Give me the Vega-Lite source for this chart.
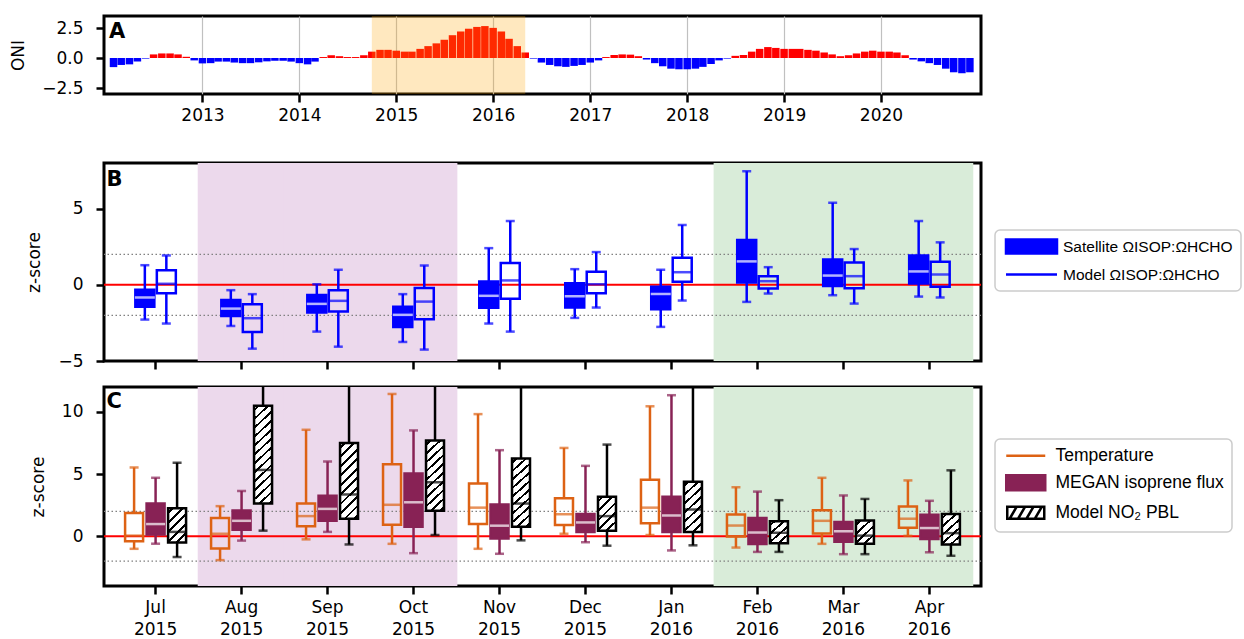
{
  "$schema": "https://vega.github.io/schema/vega-lite/v6.json",
  "background": "white",
  "padding": {"left": 8, "top": 14, "right": 4, "bottom": 0},
  "spacing": 13,
  "resolve": {
    "scale": {"shape": "independent", "fill": "independent", "stroke": "independent", "color": "independent", "x": "independent", "y": "independent", "xOffset": "independent"},
    "legend": {"shape": "independent", "fill": "independent", "stroke": "independent", "color": "independent"}
  },
  "config": {
    "font": "DejaVu Sans",
    "view": {"stroke": "black", "strokeWidth": 3},
    "axis": {"labelFont": "DejaVu Sans", "labelFontSize": 17, "labelColor": "black", "titleFont": "DejaVu Sans", "titleFontSize": 17, "titleFontWeight": "normal", "titleColor": "black", "domain": false, "tickColor": "black", "tickWidth": 2.5, "tickSize": 8, "grid": false, "labelPadding": 8},
    "legend": {"labelFont": "Liberation Sans", "labelColor": "black", "labelLimit": 0, "strokeColor": "#cccccc", "strokeWidth": 1.5, "fillColor": "white", "cornerRadius": 5, "padding": 8, "symbolStrokeWidth": 2.5, "symbolSize": 196, "symbolOpacity": 1, "rowPadding": 7}
  },
  "datasets": {
    "panels": [{"panel": "A"}, {"panel": "B"}, {"panel": "C"}],
    "oni": [
      {"date": "2012-02-01", "oni": -0.76}, {"date": "2012-03-01", "oni": -0.58}, {"date": "2012-04-01", "oni": -0.53}, {"date": "2012-05-01", "oni": -0.30}, {"date": "2012-06-01", "oni": -0.05}, {"date": "2012-07-01", "oni": 0.30}, {"date": "2012-08-01", "oni": 0.38}, {"date": "2012-09-01", "oni": 0.38}, {"date": "2012-10-01", "oni": 0.30}, {"date": "2012-11-01", "oni": 0.10}, {"date": "2012-12-01", "oni": -0.20},
      {"date": "2013-01-01", "oni": -0.45}, {"date": "2013-02-01", "oni": -0.43}, {"date": "2013-03-01", "oni": -0.30}, {"date": "2013-04-01", "oni": -0.30}, {"date": "2013-05-01", "oni": -0.38}, {"date": "2013-06-01", "oni": -0.43}, {"date": "2013-07-01", "oni": -0.43}, {"date": "2013-08-01", "oni": -0.36}, {"date": "2013-09-01", "oni": -0.28}, {"date": "2013-10-01", "oni": -0.23}, {"date": "2013-11-01", "oni": -0.23}, {"date": "2013-12-01", "oni": -0.30},
      {"date": "2014-01-01", "oni": -0.43}, {"date": "2014-02-01", "oni": -0.53}, {"date": "2014-03-01", "oni": -0.30}, {"date": "2014-04-01", "oni": 0.08}, {"date": "2014-05-01", "oni": 0.23}, {"date": "2014-06-01", "oni": 0.15}, {"date": "2014-07-01", "oni": 0.08}, {"date": "2014-08-01", "oni": 0.08}, {"date": "2014-09-01", "oni": 0.23}, {"date": "2014-10-01", "oni": 0.53}, {"date": "2014-11-01", "oni": 0.68}, {"date": "2014-12-01", "oni": 0.68},
      {"date": "2015-01-01", "oni": 0.61}, {"date": "2015-02-01", "oni": 0.53}, {"date": "2015-03-01", "oni": 0.53}, {"date": "2015-04-01", "oni": 0.76}, {"date": "2015-05-01", "oni": 0.99}, {"date": "2015-06-01", "oni": 1.22}, {"date": "2015-07-01", "oni": 1.52}, {"date": "2015-08-01", "oni": 1.90}, {"date": "2015-09-01", "oni": 2.21}, {"date": "2015-10-01", "oni": 2.44}, {"date": "2015-11-01", "oni": 2.59}, {"date": "2015-12-01", "oni": 2.66},
      {"date": "2016-01-01", "oni": 2.51}, {"date": "2016-02-01", "oni": 2.21}, {"date": "2016-03-01", "oni": 1.60}, {"date": "2016-04-01", "oni": 0.99}, {"date": "2016-05-01", "oni": 0.46}, {"date": "2016-06-01", "oni": -0.05}, {"date": "2016-07-01", "oni": -0.38}, {"date": "2016-08-01", "oni": -0.58}, {"date": "2016-09-01", "oni": -0.69}, {"date": "2016-10-01", "oni": -0.74}, {"date": "2016-11-01", "oni": -0.66}, {"date": "2016-12-01", "oni": -0.58},
      {"date": "2017-01-01", "oni": -0.38}, {"date": "2017-02-01", "oni": -0.20}, {"date": "2017-03-01", "oni": 0.08}, {"date": "2017-04-01", "oni": 0.25}, {"date": "2017-05-01", "oni": 0.30}, {"date": "2017-06-01", "oni": 0.28}, {"date": "2017-07-01", "oni": 0.15}, {"date": "2017-08-01", "oni": -0.13}, {"date": "2017-09-01", "oni": -0.43}, {"date": "2017-10-01", "oni": -0.69}, {"date": "2017-11-01", "oni": -0.89}, {"date": "2017-12-01", "oni": -0.94},
      {"date": "2018-01-01", "oni": -0.94}, {"date": "2018-02-01", "oni": -0.89}, {"date": "2018-03-01", "oni": -0.74}, {"date": "2018-04-01", "oni": -0.50}, {"date": "2018-05-01", "oni": -0.20}, {"date": "2018-06-01", "oni": -0.05}, {"date": "2018-07-01", "oni": 0.18}, {"date": "2018-08-01", "oni": 0.25}, {"date": "2018-09-01", "oni": 0.53}, {"date": "2018-10-01", "oni": 0.76}, {"date": "2018-11-01", "oni": 0.91}, {"date": "2018-12-01", "oni": 0.84},
      {"date": "2019-01-01", "oni": 0.76}, {"date": "2019-02-01", "oni": 0.76}, {"date": "2019-03-01", "oni": 0.76}, {"date": "2019-04-01", "oni": 0.68}, {"date": "2019-05-01", "oni": 0.61}, {"date": "2019-06-01", "oni": 0.46}, {"date": "2019-07-01", "oni": 0.30}, {"date": "2019-08-01", "oni": 0.15}, {"date": "2019-09-01", "oni": 0.23}, {"date": "2019-10-01", "oni": 0.38}, {"date": "2019-11-01", "oni": 0.53}, {"date": "2019-12-01", "oni": 0.61},
      {"date": "2020-01-01", "oni": 0.53}, {"date": "2020-02-01", "oni": 0.53}, {"date": "2020-03-01", "oni": 0.46}, {"date": "2020-04-01", "oni": 0.23}, {"date": "2020-05-01", "oni": -0.13}, {"date": "2020-06-01", "oni": -0.28}, {"date": "2020-07-01", "oni": -0.43}, {"date": "2020-08-01", "oni": -0.58}, {"date": "2020-09-01", "oni": -0.89}, {"date": "2020-10-01", "oni": -1.19}, {"date": "2020-11-01", "oni": -1.27}, {"date": "2020-12-01", "oni": -1.19}
    ],
    "enso": [{"start": "2014-10-01", "end": "2016-05-01"}],
    "shade": [
      {"month": "Aug 2015", "period": "Aug–Oct 2015"}, {"month": "Sep 2015", "period": "Aug–Oct 2015"}, {"month": "Oct 2015", "period": "Aug–Oct 2015"},
      {"month": "Feb 2016", "period": "Feb–Apr 2016"}, {"month": "Mar 2016", "period": "Feb–Apr 2016"}, {"month": "Apr 2016", "period": "Feb–Apr 2016"}
    ],
    "zref": [{"z": -2}, {"z": 2}],
    "zero": [{"z": 0}],
    "boxB": [
      {"month": "Jul 2015", "series": "Satellite", "lower": -2.28, "q1": -1.43, "median": -0.83, "q3": -0.33, "upper": 1.29},
      {"month": "Jul 2015", "series": "Model", "lower": -2.54, "q1": -0.55, "median": 0.07, "q3": 0.96, "upper": 1.93},
      {"month": "Aug 2015", "series": "Satellite", "lower": -2.70, "q1": -2.04, "median": -1.56, "q3": -1.00, "upper": -0.35},
      {"month": "Aug 2015", "series": "Model", "lower": -4.19, "q1": -3.09, "median": -2.19, "q3": -1.27, "upper": -0.61},
      {"month": "Sep 2015", "series": "Satellite", "lower": -3.07, "q1": -1.82, "median": -1.25, "q3": -0.66, "upper": 0.04},
      {"month": "Sep 2015", "series": "Model", "lower": -4.06, "q1": -1.75, "median": -1.05, "q3": -0.35, "upper": 0.99},
      {"month": "Oct 2015", "series": "Satellite", "lower": -3.75, "q1": -2.76, "median": -1.97, "q3": -1.43, "upper": -0.61},
      {"month": "Oct 2015", "series": "Model", "lower": -4.25, "q1": -2.26, "median": -1.10, "q3": -0.20, "upper": 1.27},
      {"month": "Nov 2015", "series": "Satellite", "lower": -2.54, "q1": -1.51, "median": -0.72, "q3": 0.22, "upper": 2.41},
      {"month": "Nov 2015", "series": "Model", "lower": -3.07, "q1": -0.92, "median": 0.29, "q3": 1.43, "upper": 4.19},
      {"month": "Dec 2015", "series": "Satellite", "lower": -2.17, "q1": -1.49, "median": -0.75, "q3": 0.11, "upper": 1.03},
      {"month": "Dec 2015", "series": "Model", "lower": -1.49, "q1": -0.55, "median": 0.04, "q3": 0.86, "upper": 2.15},
      {"month": "Jan 2016", "series": "Satellite", "lower": -2.76, "q1": -1.60, "median": -0.60, "q3": -0.13, "upper": 0.99},
      {"month": "Jan 2016", "series": "Model", "lower": -1.03, "q1": 0.20, "median": 0.83, "q3": 1.78, "upper": 3.93},
      {"month": "Feb 2016", "series": "Satellite", "lower": -1.12, "q1": 0.15, "median": 1.54, "q3": 2.94, "upper": 7.46},
      {"month": "Feb 2016", "series": "Model", "lower": -0.57, "q1": -0.24, "median": 0.24, "q3": 0.57, "upper": 1.16},
      {"month": "Mar 2016", "series": "Satellite", "lower": -0.68, "q1": -0.07, "median": 0.61, "q3": 1.67, "upper": 5.39},
      {"month": "Mar 2016", "series": "Model", "lower": -1.23, "q1": -0.22, "median": 0.57, "q3": 1.47, "upper": 2.35},
      {"month": "Apr 2016", "series": "Satellite", "lower": -0.77, "q1": 0.09, "median": 0.88, "q3": 1.93, "upper": 4.19},
      {"month": "Apr 2016", "series": "Model", "lower": -0.83, "q1": -0.13, "median": 0.68, "q3": 1.51, "upper": 2.79}
    ],
    "boxC": [
      {"month": "Jul 2015", "series": "Temperature", "lower": -1.01, "q1": -0.40, "median": 0.05, "q3": 1.87, "upper": 5.53},
      {"month": "Jul 2015", "series": "MEGAN", "lower": -0.60, "q1": 0.15, "median": 0.98, "q3": 2.63, "upper": 4.70},
      {"month": "Jul 2015", "series": "NO2", "lower": -1.67, "q1": -0.50, "median": 0.35, "q3": 2.25, "upper": 5.91},
      {"month": "Aug 2015", "series": "Temperature", "lower": -1.92, "q1": -0.98, "median": 0.20, "q3": 1.46, "upper": 2.42},
      {"month": "Aug 2015", "series": "MEGAN", "lower": -0.35, "q1": 0.53, "median": 1.24, "q3": 2.07, "upper": 3.64},
      {"month": "Aug 2015", "series": "NO2", "lower": 0.45, "q1": 2.63, "median": 5.33, "q3": 10.50, "upper": 14.5},
      {"month": "Sep 2015", "series": "Temperature", "lower": -0.25, "q1": 0.81, "median": 1.62, "q3": 2.63, "upper": 8.56},
      {"month": "Sep 2015", "series": "MEGAN", "lower": 0.35, "q1": 1.24, "median": 2.20, "q3": 3.26, "upper": 6.01},
      {"month": "Sep 2015", "series": "NO2", "lower": -0.66, "q1": 1.41, "median": 3.36, "q3": 7.50, "upper": 13.5},
      {"month": "Oct 2015", "series": "Temperature", "lower": -0.61, "q1": 0.93, "median": 2.53, "q3": 5.78, "upper": 11.44},
      {"month": "Oct 2015", "series": "MEGAN", "lower": -1.36, "q1": 0.76, "median": 2.73, "q3": 5.05, "upper": 8.51},
      {"month": "Oct 2015", "series": "NO2", "lower": 0.10, "q1": 2.05, "median": 4.34, "q3": 7.70, "upper": 13.8},
      {"month": "Nov 2015", "series": "Temperature", "lower": -1.01, "q1": 0.98, "median": 2.30, "q3": 4.24, "upper": 9.82},
      {"month": "Nov 2015", "series": "MEGAN", "lower": -1.41, "q1": -0.18, "median": 0.85, "q3": 2.55, "upper": 6.92},
      {"month": "Nov 2015", "series": "NO2", "lower": -0.33, "q1": 0.76, "median": 2.63, "q3": 6.26, "upper": 12.9},
      {"month": "Dec 2015", "series": "Temperature", "lower": 0.20, "q1": 0.91, "median": 1.77, "q3": 3.06, "upper": 7.10},
      {"month": "Dec 2015", "series": "MEGAN", "lower": -0.48, "q1": 0.35, "median": 1.11, "q3": 1.79, "upper": 5.66},
      {"month": "Dec 2015", "series": "NO2", "lower": -0.76, "q1": 0.45, "median": 1.62, "q3": 3.18, "upper": 7.37},
      {"month": "Jan 2016", "series": "Temperature", "lower": 0.10, "q1": 1.04, "median": 2.30, "q3": 4.55, "upper": 10.45},
      {"month": "Jan 2016", "series": "MEGAN", "lower": -1.14, "q1": 0.35, "median": 1.67, "q3": 3.18, "upper": 11.34},
      {"month": "Jan 2016", "series": "NO2", "lower": -0.73, "q1": 0.35, "median": 2.15, "q3": 4.39, "upper": 12.6},
      {"month": "Feb 2016", "series": "Temperature", "lower": -0.91, "q1": -0.03, "median": 0.86, "q3": 1.74, "upper": 3.94},
      {"month": "Feb 2016", "series": "MEGAN", "lower": -1.26, "q1": -0.63, "median": 0.30, "q3": 1.46, "upper": 3.59},
      {"month": "Feb 2016", "series": "NO2", "lower": -1.26, "q1": -0.56, "median": 0.28, "q3": 1.21, "upper": 2.90},
      {"month": "Mar 2016", "series": "Temperature", "lower": -0.61, "q1": 0.23, "median": 1.24, "q3": 2.10, "upper": 4.70},
      {"month": "Mar 2016", "series": "MEGAN", "lower": -1.44, "q1": -0.45, "median": 0.40, "q3": 1.14, "upper": 3.28},
      {"month": "Mar 2016", "series": "NO2", "lower": -1.44, "q1": -0.61, "median": 0.05, "q3": 1.26, "upper": 3.00},
      {"month": "Apr 2016", "series": "Temperature", "lower": 0.03, "q1": 0.68, "median": 1.41, "q3": 2.40, "upper": 4.49},
      {"month": "Apr 2016", "series": "MEGAN", "lower": -1.29, "q1": -0.23, "median": 0.66, "q3": 1.72, "upper": 2.85},
      {"month": "Apr 2016", "series": "NO2", "lower": -1.57, "q1": -0.66, "median": 0.25, "q3": 1.79, "upper": 5.30}
    ]
  },
  "vconcat": [
    {
      "width": 877,
      "height": 78,
      "layer": [
        {
          "data": {"name": "oni"},
          "mark": {"type": "bar", "width": 7.5},
          "encoding": {
            "x": {"field": "date", "type": "temporal",
                  "scale": {"type": "utc", "domain": [{"year": 2012, "month": 1, "date": 15, "utc": true}, {"year": 2020, "month": 12, "date": 24, "utc": true}]},
                  "axis": {"format": "%Y", "title": " ", "titleFontSize": 10, "titlePadding": 13, "grid": true, "gridColor": "#c0c0c0", "gridWidth": 1.2, "labelPadding": 5, "labelOverlap": false, "labelFlush": false,
                           "values": [{"year": 2013, "month": 1, "date": 1, "utc": true}, {"year": 2014, "month": 1, "date": 1, "utc": true}, {"year": 2015, "month": 1, "date": 1, "utc": true}, {"year": 2016, "month": 1, "date": 1, "utc": true}, {"year": 2017, "month": 1, "date": 1, "utc": true}, {"year": 2018, "month": 1, "date": 1, "utc": true}, {"year": 2019, "month": 1, "date": 1, "utc": true}, {"year": 2020, "month": 1, "date": 1, "utc": true}]}},
            "y": {"field": "oni", "type": "quantitative", "scale": {"domain": [-2.9, 3.05]},
                  "axis": {"values": [-2.5, 0, 2.5], "format": ".1f", "title": "ONI", "titlePadding": 14, "labelPadding": 13, "labelOverlap": false}},
            "color": {"condition": {"test": "datum.oni >= 0", "value": "#ff0000"}, "value": "#0000ff"}
          }
        },
        {
          "data": {"name": "enso"},
          "mark": {"type": "rect", "color": "orange", "opacity": 0.25},
          "encoding": {
            "x": {"field": "start", "type": "temporal"},
            "x2": {"field": "end"}
          }
        },
        {
          "data": {"name": "panels"},
          "transform": [{"filter": "datum.panel === 'A'"}],
          "mark": {"type": "text", "align": "left", "baseline": "top", "dx": 0, "dy": 0, "font": "DejaVu Sans", "fontSize": 21, "fontWeight": "bold", "color": "black"},
          "encoding": {
            "x": {"datum": {"year": 2012, "month": 1, "date": 15, "utc": true}, "type": "temporal",
                  "axis": {"format": "%Y", "title": " ", "titleFontSize": 10, "titlePadding": 13, "grid": true, "gridColor": "#c0c0c0", "gridWidth": 1.2, "labelPadding": 5, "labelOverlap": false, "labelFlush": false,
                           "values": [{"year": 2013, "month": 1, "date": 1, "utc": true}, {"year": 2014, "month": 1, "date": 1, "utc": true}, {"year": 2015, "month": 1, "date": 1, "utc": true}, {"year": 2016, "month": 1, "date": 1, "utc": true}, {"year": 2017, "month": 1, "date": 1, "utc": true}, {"year": 2018, "month": 1, "date": 1, "utc": true}, {"year": 2019, "month": 1, "date": 1, "utc": true}, {"year": 2020, "month": 1, "date": 1, "utc": true}]}},
            "y": {"datum": 3.05, "type": "quantitative",
                  "axis": {"values": [-2.5, 0, 2.5], "format": ".1f", "title": "ONI", "titlePadding": 14, "labelPadding": 13, "labelOverlap": false}},
            "text": {"field": "panel"}
          }
        }
      ]
    },
    {
      "width": 877,
      "height": 198,
      "layer": [
        {
          "data": {"name": "shade"},
          "mark": {"type": "bar", "width": {"band": 1.02}},
          "encoding": {
            "x": {"field": "month", "type": "nominal",
                  "scale": {"type": "band", "domain": ["Jul 2015", "Aug 2015", "Sep 2015", "Oct 2015", "Nov 2015", "Dec 2015", "Jan 2016", "Feb 2016", "Mar 2016", "Apr 2016"], "paddingInner": 0, "paddingOuter": 0.1},
                  "axis": {"labels": false, "title": null}},
            "color": {"field": "period", "type": "nominal", "scale": {"domain": ["Aug–Oct 2015", "Feb–Apr 2016"], "range": ["#ecd9ec", "#d9ecd9"]}, "legend": null}
          }
        },
        {
          "data": {"name": "zref"},
          "mark": {"type": "rule", "color": "#808080", "strokeWidth": 1.2, "strokeDash": [1.5, 2.5]},
          "encoding": {"y": {"field": "z", "type": "quantitative", "scale": {"domain": [-5, 8]}, "axis": {"values": [-5, 0, 5], "title": "z-score", "titlePadding": 14, "labelPadding": 13}}}
        },
        {
          "data": {"name": "zero"},
          "mark": {"type": "rule", "color": "#ff0000", "strokeWidth": 2},
          "encoding": {"y": {"field": "z", "type": "quantitative"}}
        },
        {
          "data": {"name": "boxB"},
          "encoding": {
            "x": {"field": "month", "type": "nominal",
                  "scale": {"type": "band", "domain": ["Jul 2015", "Aug 2015", "Sep 2015", "Oct 2015", "Nov 2015", "Dec 2015", "Jan 2016", "Feb 2016", "Mar 2016", "Apr 2016"], "paddingInner": 0, "paddingOuter": 0.1},
                  "axis": {"labels": false, "title": null}},
            "xOffset": {"field": "series", "type": "nominal", "scale": {"domain": ["Satellite", "Model"], "paddingInner": 0, "paddingOuter": 1.5}}
          },
          "layer": [
            {"mark": {"type": "rule", "strokeWidth": 2.5, "color": "#0000ff", "clip": true},
             "encoding": {"y": {"field": "lower", "type": "quantitative"}, "y2": {"field": "q1"}}},
            {"mark": {"type": "rule", "strokeWidth": 2.5, "color": "#0000ff", "clip": true},
             "encoding": {"y": {"field": "q3", "type": "quantitative"}, "y2": {"field": "upper"}}},
            {"mark": {"type": "tick", "size": 9, "thickness": 2.5, "color": "#0000ff", "clip": true},
             "encoding": {"y": {"field": "lower", "type": "quantitative"}}},
            {"mark": {"type": "tick", "size": 9, "thickness": 2.5, "color": "#0000ff", "clip": true},
             "encoding": {"y": {"field": "upper", "type": "quantitative"}}},
            {"mark": {"type": "bar", "width": 19, "stroke": "#0000ff", "strokeWidth": 2.5},
             "encoding": {"y": {"field": "q1", "type": "quantitative"}, "y2": {"field": "q3"},
                          "fill": {"condition": {"test": "datum.series === 'Satellite'", "value": "#0000ff"}, "value": "transparent"}}},
            {"mark": {"type": "tick", "size": 20, "thickness": 2.5},
             "encoding": {"y": {"field": "median", "type": "quantitative"},
                          "color": {"condition": {"test": "datum.series === 'Satellite'", "value": "#ffffff"}, "value": "#0000ff"}}},
            {"mark": {"type": "point", "opacity": 0, "size": 196},
             "encoding": {
               "y": {"field": "median", "type": "quantitative"},
               "shape": {"field": "series", "type": "nominal", "scale": {"domain": ["Satellite", "Model"], "range": ["M-3.643,-1H3.643V1H-3.643Z", "M-3.643,0H3.643"]},
                         "legend": {"title": null, "orient": "none", "legendX": 891, "legendY": 67, "symbolOffset": 20, "labelOffset": 23, "labelFontSize": 15.5, "labelExpr": "datum.value === 'Satellite' ? 'Satellite ΩISOP:ΩHCHO' : 'Model ΩISOP:ΩHCHO'"}},
               "fill": {"field": "series", "type": "nominal", "scale": {"domain": ["Satellite", "Model"], "range": ["#0000ff", "transparent"]},
                         "legend": {"title": null, "orient": "none", "legendX": 891, "legendY": 67, "symbolOffset": 20, "labelOffset": 23, "labelFontSize": 15.5, "labelExpr": "datum.value === 'Satellite' ? 'Satellite ΩISOP:ΩHCHO' : 'Model ΩISOP:ΩHCHO'"}},
               "stroke": {"field": "series", "type": "nominal", "scale": {"domain": ["Satellite", "Model"], "range": ["#0000ff", "#0000ff"]},
                         "legend": {"title": null, "orient": "none", "legendX": 891, "legendY": 67, "symbolOffset": 20, "labelOffset": 23, "labelFontSize": 15.5, "labelExpr": "datum.value === 'Satellite' ? 'Satellite ΩISOP:ΩHCHO' : 'Model ΩISOP:ΩHCHO'"}}
             }}
          ]
        },
        {
          "data": {"name": "panels"},
          "transform": [{"filter": "datum.panel === 'B'"}],
          "mark": {"type": "text", "align": "left", "baseline": "top", "dx": -6, "dy": 6, "font": "DejaVu Sans", "fontSize": 21, "fontWeight": "bold", "color": "black"},
          "encoding": {
            "x": {"datum": "Jul 2015", "type": "nominal", "bandPosition": 0},
            "y": {"datum": 8, "type": "quantitative"},
            "text": {"field": "panel"}
          }
        }
      ]
    },
    {
      "width": 877,
      "height": 199,
      "layer": [
        {
          "data": {"name": "shade"},
          "mark": {"type": "bar", "width": {"band": 1.02}},
          "encoding": {
            "x": {"field": "month", "type": "nominal",
                  "scale": {"type": "band", "domain": ["Jul 2015", "Aug 2015", "Sep 2015", "Oct 2015", "Nov 2015", "Dec 2015", "Jan 2016", "Feb 2016", "Mar 2016", "Apr 2016"], "paddingInner": 0, "paddingOuter": 0.1},
                  "axis": {"title": null, "labelExpr": "split(datum.label, ' ')", "labelLineHeight": 22, "labelPadding": 5, "labelAngle": 0}},
            "color": {"field": "period", "type": "nominal", "scale": {"domain": ["Aug–Oct 2015", "Feb–Apr 2016"], "range": ["#ecd9ec", "#d9ecd9"]}, "legend": null}
          }
        },
        {
          "data": {"name": "zref"},
          "mark": {"type": "rule", "color": "#808080", "strokeWidth": 1.2, "strokeDash": [1.5, 2.5]},
          "encoding": {"y": {"field": "z", "type": "quantitative", "scale": {"domain": [-3, 12]}, "axis": {"values": [0, 5, 10], "title": "z-score", "titlePadding": 14, "labelPadding": 13}}}
        },
        {
          "data": {"name": "zero"},
          "mark": {"type": "rule", "color": "#ff0000", "strokeWidth": 2},
          "encoding": {"y": {"field": "z", "type": "quantitative"}}
        },
        {
          "data": {"name": "boxC"},
          "encoding": {
            "x": {"field": "month", "type": "nominal",
                  "scale": {"type": "band", "domain": ["Jul 2015", "Aug 2015", "Sep 2015", "Oct 2015", "Nov 2015", "Dec 2015", "Jan 2016", "Feb 2016", "Mar 2016", "Apr 2016"], "paddingInner": 0, "paddingOuter": 0.1},
                  "axis": {"title": null, "labelExpr": "split(datum.label, ' ')", "labelLineHeight": 22, "labelPadding": 5, "labelAngle": 0}},
            "xOffset": {"field": "series", "type": "nominal", "scale": {"domain": ["Temperature", "MEGAN", "NO2"], "paddingInner": 0, "paddingOuter": 0.5}}
          },
          "layer": [
            {"mark": {"type": "rule", "strokeWidth": 2.5, "clip": true},
             "encoding": {"y": {"field": "lower", "type": "quantitative"}, "y2": {"field": "q1"},
                          "color": {"condition": [{"test": "datum.series === 'Temperature'", "value": "#dd6214"}, {"test": "datum.series === 'MEGAN'", "value": "#882255"}], "value": "#000000"}}},
            {"mark": {"type": "rule", "strokeWidth": 2.5, "clip": true},
             "encoding": {"y": {"field": "q3", "type": "quantitative"}, "y2": {"field": "upper"},
                          "color": {"condition": [{"test": "datum.series === 'Temperature'", "value": "#dd6214"}, {"test": "datum.series === 'MEGAN'", "value": "#882255"}], "value": "#000000"}}},
            {"mark": {"type": "tick", "size": 9, "thickness": 2.5, "clip": true},
             "encoding": {"y": {"field": "lower", "type": "quantitative"},
                          "color": {"condition": [{"test": "datum.series === 'Temperature'", "value": "#dd6214"}, {"test": "datum.series === 'MEGAN'", "value": "#882255"}], "value": "#000000"}}},
            {"mark": {"type": "tick", "size": 9, "thickness": 2.5, "clip": true},
             "encoding": {"y": {"field": "upper", "type": "quantitative"},
                          "color": {"condition": [{"test": "datum.series === 'Temperature'", "value": "#dd6214"}, {"test": "datum.series === 'MEGAN'", "value": "#882255"}], "value": "#000000"}}},
            {"mark": {"type": "bar", "width": 18, "strokeWidth": 2.5},
             "encoding": {"y": {"field": "q1", "type": "quantitative"}, "y2": {"field": "q3"},
                          "stroke": {"condition": [{"test": "datum.series === 'Temperature'", "value": "#dd6214"}, {"test": "datum.series === 'MEGAN'", "value": "#882255"}], "value": "#000000"},
                          "fill": {"condition": [
                            {"test": "datum.series === 'MEGAN'", "value": "#882255"},
                            {"test": "datum.series === 'NO2' && indexof(['Feb 2016','Mar 2016'], datum.month) >= 0", "value": {"gradient": "linear", "x1": 0, "y1": 0, "x2": 0.816, "y2": 1.133, "stops": [
                              {"offset": 0, "color": "white"},
                              {"offset": 0.077, "color": "white"}, {"offset": 0.077, "color": "black"}, {"offset": 0.143, "color": "black"}, {"offset": 0.143, "color": "white"},
                              {"offset": 0.298, "color": "white"}, {"offset": 0.298, "color": "black"}, {"offset": 0.364, "color": "black"}, {"offset": 0.364, "color": "white"},
                              {"offset": 0.519, "color": "white"}, {"offset": 0.519, "color": "black"}, {"offset": 0.585, "color": "black"}, {"offset": 0.585, "color": "white"},
                              {"offset": 0.740, "color": "white"}, {"offset": 0.740, "color": "black"}, {"offset": 0.806, "color": "black"}, {"offset": 0.806, "color": "white"},
                              {"offset": 0.961, "color": "white"}, {"offset": 0.961, "color": "black"}, {"offset": 1, "color": "black"}]}},
                            {"test": "datum.series === 'NO2' && indexof(['Jul 2015','Dec 2015','Apr 2016'], datum.month) >= 0", "value": {"gradient": "linear", "x1": 0, "y1": 0, "x2": 0.632, "y2": 1.195, "stops": [
                              {"offset": 0, "color": "white"},
                              {"offset": 0.064, "color": "white"}, {"offset": 0.064, "color": "black"}, {"offset": 0.118, "color": "black"}, {"offset": 0.118, "color": "white"},
                              {"offset": 0.247, "color": "white"}, {"offset": 0.247, "color": "black"}, {"offset": 0.301, "color": "black"}, {"offset": 0.301, "color": "white"},
                              {"offset": 0.430, "color": "white"}, {"offset": 0.430, "color": "black"}, {"offset": 0.484, "color": "black"}, {"offset": 0.484, "color": "white"},
                              {"offset": 0.612, "color": "white"}, {"offset": 0.612, "color": "black"}, {"offset": 0.666, "color": "black"}, {"offset": 0.666, "color": "white"},
                              {"offset": 0.795, "color": "white"}, {"offset": 0.795, "color": "black"}, {"offset": 0.849, "color": "black"}, {"offset": 0.849, "color": "white"},
                              {"offset": 0.978, "color": "white"}, {"offset": 0.978, "color": "black"}, {"offset": 1, "color": "black"}]}},
                            {"test": "datum.series === 'NO2' && datum.month === 'Jan 2016'", "value": {"gradient": "linear", "x1": 0, "y1": 0, "x2": 0.408, "y2": 1.201, "stops": [
                              {"offset": 0, "color": "white"},
                              {"offset": 0.047, "color": "white"}, {"offset": 0.047, "color": "black"}, {"offset": 0.087, "color": "black"}, {"offset": 0.087, "color": "white"},
                              {"offset": 0.181, "color": "white"}, {"offset": 0.181, "color": "black"}, {"offset": 0.221, "color": "black"}, {"offset": 0.221, "color": "white"},
                              {"offset": 0.314, "color": "white"}, {"offset": 0.314, "color": "black"}, {"offset": 0.354, "color": "black"}, {"offset": 0.354, "color": "white"},
                              {"offset": 0.448, "color": "white"}, {"offset": 0.448, "color": "black"}, {"offset": 0.488, "color": "black"}, {"offset": 0.488, "color": "white"},
                              {"offset": 0.582, "color": "white"}, {"offset": 0.582, "color": "black"}, {"offset": 0.622, "color": "black"}, {"offset": 0.622, "color": "white"},
                              {"offset": 0.716, "color": "white"}, {"offset": 0.716, "color": "black"}, {"offset": 0.756, "color": "black"}, {"offset": 0.756, "color": "white"},
                              {"offset": 0.850, "color": "white"}, {"offset": 0.850, "color": "black"}, {"offset": 0.890, "color": "black"}, {"offset": 0.890, "color": "white"},
                              {"offset": 0.983, "color": "white"}, {"offset": 0.983, "color": "black"}, {"offset": 1, "color": "black"}]}},
                            {"test": "datum.series === 'NO2' && indexof(['Sep 2015','Oct 2015','Nov 2015'], datum.month) >= 0", "value": {"gradient": "linear", "x1": 0, "y1": 0, "x2": 0.277, "y2": 1.171, "stops": [
                              {"offset": 0, "color": "white"},
                              {"offset": 0.036, "color": "white"}, {"offset": 0.036, "color": "black"}, {"offset": 0.066, "color": "black"}, {"offset": 0.066, "color": "white"},
                              {"offset": 0.137, "color": "white"}, {"offset": 0.137, "color": "black"}, {"offset": 0.167, "color": "black"}, {"offset": 0.167, "color": "white"},
                              {"offset": 0.238, "color": "white"}, {"offset": 0.238, "color": "black"}, {"offset": 0.268, "color": "black"}, {"offset": 0.268, "color": "white"},
                              {"offset": 0.339, "color": "white"}, {"offset": 0.339, "color": "black"}, {"offset": 0.369, "color": "black"}, {"offset": 0.369, "color": "white"},
                              {"offset": 0.440, "color": "white"}, {"offset": 0.440, "color": "black"}, {"offset": 0.470, "color": "black"}, {"offset": 0.470, "color": "white"},
                              {"offset": 0.541, "color": "white"}, {"offset": 0.541, "color": "black"}, {"offset": 0.571, "color": "black"}, {"offset": 0.571, "color": "white"},
                              {"offset": 0.642, "color": "white"}, {"offset": 0.642, "color": "black"}, {"offset": 0.672, "color": "black"}, {"offset": 0.672, "color": "white"},
                              {"offset": 0.743, "color": "white"}, {"offset": 0.743, "color": "black"}, {"offset": 0.773, "color": "black"}, {"offset": 0.773, "color": "white"},
                              {"offset": 0.844, "color": "white"}, {"offset": 0.844, "color": "black"}, {"offset": 0.874, "color": "black"}, {"offset": 0.874, "color": "white"},
                              {"offset": 0.945, "color": "white"}, {"offset": 0.945, "color": "black"}, {"offset": 0.975, "color": "black"}, {"offset": 0.975, "color": "white"},
                              {"offset": 1, "color": "white"}]}},
                            {"test": "datum.series === 'NO2' && datum.month === 'Aug 2015'", "value": {"gradient": "linear", "x1": 0, "y1": 0, "x2": 0.197, "y2": 1.139, "stops": [
                              {"offset": 0, "color": "white"},
                              {"offset": 0.028, "color": "white"}, {"offset": 0.028, "color": "black"}, {"offset": 0.050, "color": "black"}, {"offset": 0.050, "color": "white"},
                              {"offset": 0.106, "color": "white"}, {"offset": 0.106, "color": "black"}, {"offset": 0.128, "color": "black"}, {"offset": 0.128, "color": "white"},
                              {"offset": 0.184, "color": "white"}, {"offset": 0.184, "color": "black"}, {"offset": 0.206, "color": "black"}, {"offset": 0.206, "color": "white"},
                              {"offset": 0.262, "color": "white"}, {"offset": 0.262, "color": "black"}, {"offset": 0.284, "color": "black"}, {"offset": 0.284, "color": "white"},
                              {"offset": 0.340, "color": "white"}, {"offset": 0.340, "color": "black"}, {"offset": 0.362, "color": "black"}, {"offset": 0.362, "color": "white"},
                              {"offset": 0.418, "color": "white"}, {"offset": 0.418, "color": "black"}, {"offset": 0.440, "color": "black"}, {"offset": 0.440, "color": "white"},
                              {"offset": 0.495, "color": "white"}, {"offset": 0.495, "color": "black"}, {"offset": 0.517, "color": "black"}, {"offset": 0.517, "color": "white"},
                              {"offset": 0.573, "color": "white"}, {"offset": 0.573, "color": "black"}, {"offset": 0.595, "color": "black"}, {"offset": 0.595, "color": "white"},
                              {"offset": 0.651, "color": "white"}, {"offset": 0.651, "color": "black"}, {"offset": 0.673, "color": "black"}, {"offset": 0.673, "color": "white"},
                              {"offset": 0.729, "color": "white"}, {"offset": 0.729, "color": "black"}, {"offset": 0.751, "color": "black"}, {"offset": 0.751, "color": "white"},
                              {"offset": 0.807, "color": "white"}, {"offset": 0.807, "color": "black"}, {"offset": 0.829, "color": "black"}, {"offset": 0.829, "color": "white"},
                              {"offset": 0.885, "color": "white"}, {"offset": 0.885, "color": "black"}, {"offset": 0.907, "color": "black"}, {"offset": 0.907, "color": "white"},
                              {"offset": 0.963, "color": "white"}, {"offset": 0.963, "color": "black"}, {"offset": 0.985, "color": "black"}, {"offset": 0.985, "color": "white"},
                              {"offset": 1, "color": "white"}]}}
                          ], "value": "transparent"}}},
            {"mark": {"type": "tick", "size": 19, "thickness": 2.5},
             "encoding": {"y": {"field": "median", "type": "quantitative"},
                          "color": {"condition": [{"test": "datum.series === 'Temperature'", "value": "#dd6214"}, {"test": "datum.series === 'MEGAN'", "value": "#ffffff"}], "value": "#000000"}}},
            {"mark": {"type": "point", "opacity": 0, "size": 196},
             "encoding": {
               "y": {"field": "median", "type": "quantitative"},
               "shape": {"field": "series", "type": "nominal", "scale": {"domain": ["Temperature", "MEGAN", "NO2"], "range": ["M-2.786,0H2.786", "M-2.786,-1.071H2.786V1.071H-2.786Z", "M-2.643,-0.857H2.643V0.857H-2.643Z M-2.3,0.857L-1.3,-0.857 M-1.1,0.857L-0.1,-0.857 M0.1,0.857L1.1,-0.857 M1.3,0.857L2.3,-0.857"]},
                         "legend": {"title": null, "orient": "none", "legendX": 891, "legendY": 52, "symbolOffset": 14, "labelOffset": 21, "labelFontSize": 17.5, "rowPadding": 5, "labelExpr": "datum.value === 'Temperature' ? 'Temperature' : (datum.value === 'MEGAN' ? 'MEGAN isoprene flux' : 'Model NO₂ PBL')"}},
               "fill": {"field": "series", "type": "nominal", "scale": {"domain": ["Temperature", "MEGAN", "NO2"], "range": ["transparent", "#882255", "#ffffff"]},
                         "legend": {"title": null, "orient": "none", "legendX": 891, "legendY": 52, "symbolOffset": 14, "labelOffset": 21, "labelFontSize": 17.5, "rowPadding": 5, "labelExpr": "datum.value === 'Temperature' ? 'Temperature' : (datum.value === 'MEGAN' ? 'MEGAN isoprene flux' : 'Model NO₂ PBL')"}},
               "stroke": {"field": "series", "type": "nominal", "scale": {"domain": ["Temperature", "MEGAN", "NO2"], "range": ["#dd6214", "#882255", "#000000"]},
                         "legend": {"title": null, "orient": "none", "legendX": 891, "legendY": 52, "symbolOffset": 14, "labelOffset": 21, "labelFontSize": 17.5, "rowPadding": 5, "labelExpr": "datum.value === 'Temperature' ? 'Temperature' : (datum.value === 'MEGAN' ? 'MEGAN isoprene flux' : 'Model NO₂ PBL')"}}
             }}
          ]
        },
        {
          "data": {"name": "panels"},
          "transform": [{"filter": "datum.panel === 'C'"}],
          "mark": {"type": "text", "align": "left", "baseline": "top", "dx": -6, "dy": 4, "font": "DejaVu Sans", "fontSize": 21, "fontWeight": "bold", "color": "black"},
          "encoding": {
            "x": {"datum": "Jul 2015", "type": "nominal", "bandPosition": 0},
            "y": {"datum": 12, "type": "quantitative"},
            "text": {"field": "panel"}
          }
        }
      ]
    }
  ]
}
